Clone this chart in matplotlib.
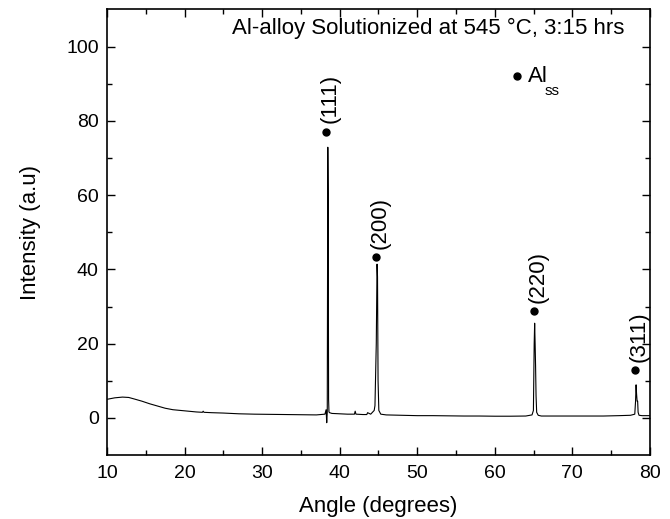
import matplotlib
matplotlib.use("Agg")
import matplotlib.pyplot as plt
import numpy as np

plt.rcParams['font.family'] = ['Liberation Sans', 'DejaVu Sans']

# XRD profile (angle in degrees, intensity a.u.)
angle = [10.0, 11.0, 12.0, 12.8, 13.5, 14.5, 15.5, 16.5, 17.5, 18.5, 19.5, 20.5, 21.5, 22.3, 22.4, 22.5,
         23.5, 25.0, 27.0, 29.0, 31.0, 33.0, 35.0, 37.0, 38.1, 38.25, 38.33, 38.40, 38.47, 38.52, 38.57, 38.62,
         38.7, 39.0, 40.0, 41.0, 41.9, 42.0, 42.1, 43.0, 43.5, 43.6, 44.0, 44.45, 44.55, 44.72, 44.82, 44.88,
         44.95, 45.05, 45.3, 46.0, 48.0, 50.0, 52.0, 54.0, 56.0, 58.0, 60.0, 62.0, 64.0, 64.8, 64.98,
         65.08, 65.14, 65.2, 65.26, 65.32, 65.4, 65.6, 66.0, 68.0, 70.0, 72.0, 74.0, 76.0, 77.5, 78.05,
         78.15, 78.22, 78.28, 78.35, 78.42, 78.48, 78.6, 79.0, 80.0]
intensity = [5.0, 5.4, 5.6, 5.5, 5.1, 4.5, 3.8, 3.2, 2.6, 2.2, 2.0, 1.8, 1.6, 1.5, 1.8, 1.5,
             1.4, 1.3, 1.1, 1.0, 0.95, 0.9, 0.85, 0.8, 1.0, 2.2, -1.3, 1.5, 72.9, 60.0, 5.0, 1.6,
             1.4, 1.2, 1.1, 1.0, 1.0, 1.8, 1.0, 0.9, 0.9, 1.4, 1.0, 2.0, 3.3, 20.0, 41.4, 38.0,
             10.0, 2.0, 1.0, 0.8, 0.7, 0.6, 0.6, 0.55, 0.5, 0.5, 0.45, 0.45, 0.5, 0.8, 2.0,
             20.0, 25.5, 20.0, 13.9, 6.0, 1.5, 0.7, 0.5, 0.5, 0.5, 0.5, 0.5, 0.6, 0.7, 1.0,
             4.5, 8.9, 6.5, 4.5, 4.5, 1.5, 0.7, 0.6, 0.6]

# Peak markers and (hkl) labels
peak_angle = [38.3, 44.7, 65.1, 78.1]
peak_marker_y = [77.1, 43.2, 28.7, 12.8]
peak_labels = ["(111)", "(200)", "(220)", "(311)"]

fig = plt.figure(figsize=(6.7, 5.19), dpi=100)
ax = fig.add_axes([0.1597, 0.1233, 0.8103, 0.8584])

ax.plot(angle, intensity, color='black', lw=0.8)
ax.plot(peak_angle, peak_marker_y, 'o', color='black', ms=5, ls='none')
for xa, ym, lab in zip(peak_angle, peak_marker_y, peak_labels):
    ax.text(xa + 0.5, ym + 2.2, lab, rotation=90, ha='center', va='bottom', fontsize=16)

ax.text(26.1, 104.8, "Al-alloy Solutionized at 545 \u00b0C, 3:15 hrs", fontsize=16, va='center', ha='left')
ax.plot([62.9], [92.0], 'o', color='black', ms=5)
ax.text(64.3, 90.4, "Al", fontsize=16, va='baseline', ha='left')
ax.text(66.45, 86.9, "ss", fontsize=11, va='baseline', ha='left')

ax.set_xlim(10, 80)
ax.set_ylim(-10, 110)
ax.set_xticks(np.arange(10, 81, 10))
ax.set_xticks(np.arange(15, 80, 10), minor=True)
ax.set_yticks(np.arange(0, 101, 20))
ax.set_yticks(np.arange(10, 101, 20), minor=True)
ax.tick_params(which='both', direction='in', top=True, right=True, labelsize=14, width=1.0)
ax.tick_params(which='major', length=6)
ax.tick_params(which='minor', length=3.5)
ax.tick_params(axis='x', pad=7)
ax.tick_params(axis='y', pad=6)
for s in ax.spines.values():
    s.set_linewidth(1.2)

ax.set_xlabel("Angle (degrees)", fontsize=16, labelpad=10)
ax.set_ylabel("Intensity (a.u)", fontsize=16, labelpad=18)

fig.savefig("out.png", dpi=100)
